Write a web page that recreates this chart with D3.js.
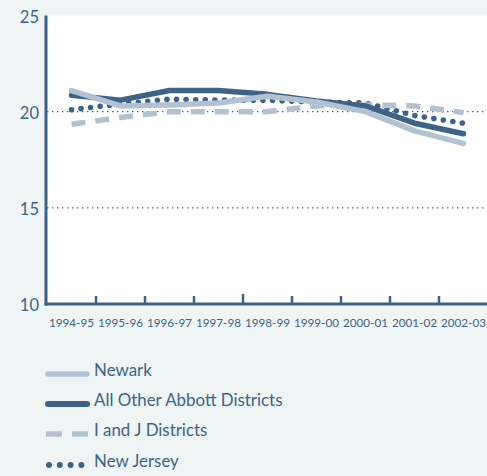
<!DOCTYPE html>
<html><head><meta charset="utf-8">
<script src="https://cdn.jsdelivr.net/npm/d3@7"></script>
<style>
html,body{margin:0;padding:0;background:#eff5f5;}
svg{display:block;font-family:Lato, "Open Sans", sans-serif;}
</style></head>
<body>
<svg id="chart" width="487" height="476"></svg>
<script>
const years = ["1994-95","1995-96","1996-97","1997-98","1998-99","1999-00","2000-01","2001-02","2002-03"];
const newark = [21.1, 20.3, 20.35, 20.45, 20.8, 20.5, 20.0, 19.0, 18.35];
const abbott = [20.85, 20.6, 21.1, 21.1, 20.9, 20.55, 20.3, 19.4, 18.85];
const iandj  = [19.35, 19.7, 20.0, 20.0, 20.0, 20.3, 20.35, 20.3, 19.95];
const nj     = [20.1, 20.4, 20.65, 20.6, 20.6, 20.5, 20.45, 19.8, 19.4];
const yTicks = [10, 15, 20, 25];
const gridValues = [15, 20];

const DARK = "#3d6389", LIGHT = "#b3c2d2", TEXT = "#3d6389";
const svg = d3.select("#chart");
const pLeft = 47, pRight = 488, pTop = 15.5, pBottom = 304;

svg.append("rect").attr("x", pLeft).attr("y", pTop).attr("width", pRight-pLeft).attr("height", pBottom-pTop).attr("fill", "#fff");

const x = d3.scaleBand().domain(years).range([pLeft, pRight]);
const y = d3.scaleLinear().domain([10, 25]).range([pBottom, pTop]);

// gridlines
svg.selectAll(".grid").data(gridValues).join("line")
  .attr("x1", pLeft).attr("x2", pRight)
  .attr("y1", d => y(d)).attr("y2", d => y(d))
  .attr("stroke", DARK).attr("stroke-width", 1.4)
  .attr("stroke-dasharray", "1.4 3.6");

// y labels
svg.selectAll(".ylab").data(yTicks).join("text")
  .attr("x", 39).attr("y", d => y(d)).attr("dy", "0.45em")
  .attr("text-anchor", "end").attr("font-size", 16.5).attr("fill", TEXT)
  .text(d => d);

// axes
svg.append("line").attr("x1", 46).attr("x2", 46).attr("y1", pTop).attr("y2", pBottom+1.5)
  .attr("stroke", DARK).attr("stroke-width", 3);
svg.append("line").attr("x1", 44.5).attr("x2", 487).attr("y1", pBottom).attr("y2", pBottom)
  .attr("stroke", DARK).attr("stroke-width", 3);
svg.selectAll(".tick").data(years.slice(1)).join("line")
  .attr("x1", d => x(d)).attr("x2", d => x(d))
  .attr("y1", pBottom).attr("y2", (d, i) => i === 3 ? pBottom - 10 : pBottom - 8)
  .attr("stroke", DARK).attr("stroke-width", 2.5);
svg.selectAll(".xlab").data(years).join("text")
  .attr("x", d => x(d) + x.bandwidth()/2).attr("y", 326.5)
  .attr("text-anchor", "middle").attr("font-size", 11.7).attr("fill", TEXT)
  .text(d => d);

const line = d3.line().x((d, i) => x(years[i]) + x.bandwidth()/2).y(d => y(d));

const series = [
  {name: "New Jersey", data: nj, color: DARK, width: 5.6, dash: "0 9.6"},
  {name: "I and J Districts", data: iandj, color: LIGHT, width: 5.5, dash: "14 10", cap: "butt"},
  {name: "All Other Abbott Districts", data: abbott, color: DARK, width: 5.5},
  {name: "Newark", data: newark, color: LIGHT, width: 5.5}
];
series.forEach(s => {
  svg.append("path").attr("d", line(s.data)).attr("fill", "none")
    .attr("stroke", s.color).attr("stroke-width", s.width)
    .attr("stroke-linejoin", "round")
    .attr("stroke-linecap", s.cap || "round")
    .attr("stroke-dasharray", s.dash || null);
});

// legend
const legend = [
  {name: "Newark", color: LIGHT, width: 5.5, y: 374},
  {name: "All Other Abbott Districts", color: DARK, width: 6, y: 404},
  {name: "I and J Districts", color: LIGHT, width: 5.5, y: 434, dash: "16 10", cap: "butt", x1: 46, x2: 88},
  {name: "New Jersey", color: DARK, width: 6, y: 465, dash: "0 10.8", x1: 49, x2: 85}
];
legend.forEach(l => {
  svg.append("line").attr("x1", l.x1 || 48).attr("x2", l.x2 || 87).attr("y1", l.y).attr("y2", l.y)
    .attr("stroke", l.color).attr("stroke-width", l.width)
    .attr("stroke-linecap", l.cap || "round")
    .attr("stroke-dasharray", l.dash || null);
  svg.append("text").attr("x", 94).attr("y", l.y).attr("dy", "0.1em")
    .attr("font-size", 16.9).attr("fill", TEXT).text(l.name);
});
</script>
</body></html>
